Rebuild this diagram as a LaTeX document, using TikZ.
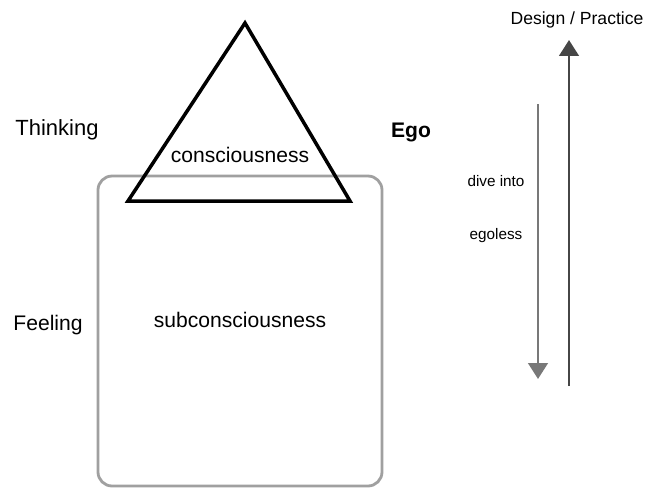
\documentclass[tikz,border=0pt]{standalone}
\usepackage{fontspec}
\setmainfont{Liberation Sans}
\usetikzlibrary{arrows.meta, positioning}
\definecolor{boxgray}{RGB}{160, 160, 160}
\definecolor{lightarrow}{RGB}{120, 120, 120}
\definecolor{darkarrow}{RGB}{70, 70, 70}

\begin{document}
\begin{tikzpicture}[
        x=0.02cm, y=-0.02cm,
        label/.style={
            font=\fontsize{12}{14}\selectfont,
            inner sep=0pt
        },
        small/.style={
            font=\fontsize{8.7}{10}\selectfont,
            inner sep=0pt
        },
        mind/.style={
            draw=boxgray,
            line width=1.6pt,
            rounded corners=8pt
        },
        peak/.style={
            draw=black,
            line width=2pt,
            line join=miter
        },
        flow/.style={
            line width=1.6pt,
            -{Triangle[length=9pt, width=11pt]}
        }
    ]
        \useasboundingbox (0,0) rectangle (645,488);

        \draw[mind] (98,176) rectangle (382,486);
        \coordinate (apex) at (245,23);
        \coordinate (baseL) at (128,201);
        \coordinate (baseR) at (350,201);
        \draw[peak] (apex) -- (baseR) -- (baseL) -- cycle;

        \node[label] (conscious) at (240,155) {consciousness};
        \node[label] (subconscious) at (240,320) {subconsciousness};
        \node[label, font=\fontsize{12.5}{14}\selectfont] (thinking) at (57,130) {Thinking};
        \node[label] (feeling) at (48,325) {Feeling};
        \node[label, font=\fontsize{12}{14}\selectfont\bfseries] (ego) at (411,132) {Ego};

        \node[small, font=\fontsize{10}{12}\selectfont] (design) at (577,20) {Design / Practice};
        \node[small] (dive) at (496,181) {dive into};
        \node[small] (egoless) at (496,236) {egoless};

        \coordinate (downStart) at (538,104);
        \coordinate (downEnd) at (538,379);
        \coordinate (upStart) at (569,386);
        \coordinate (upEnd) at (569,40);
        \draw[flow, draw=lightarrow, fill=lightarrow] (downStart) -- (downEnd);
        \draw[flow, draw=darkarrow, fill=darkarrow] (upStart) -- (upEnd);
\end{tikzpicture}
\end{document}
